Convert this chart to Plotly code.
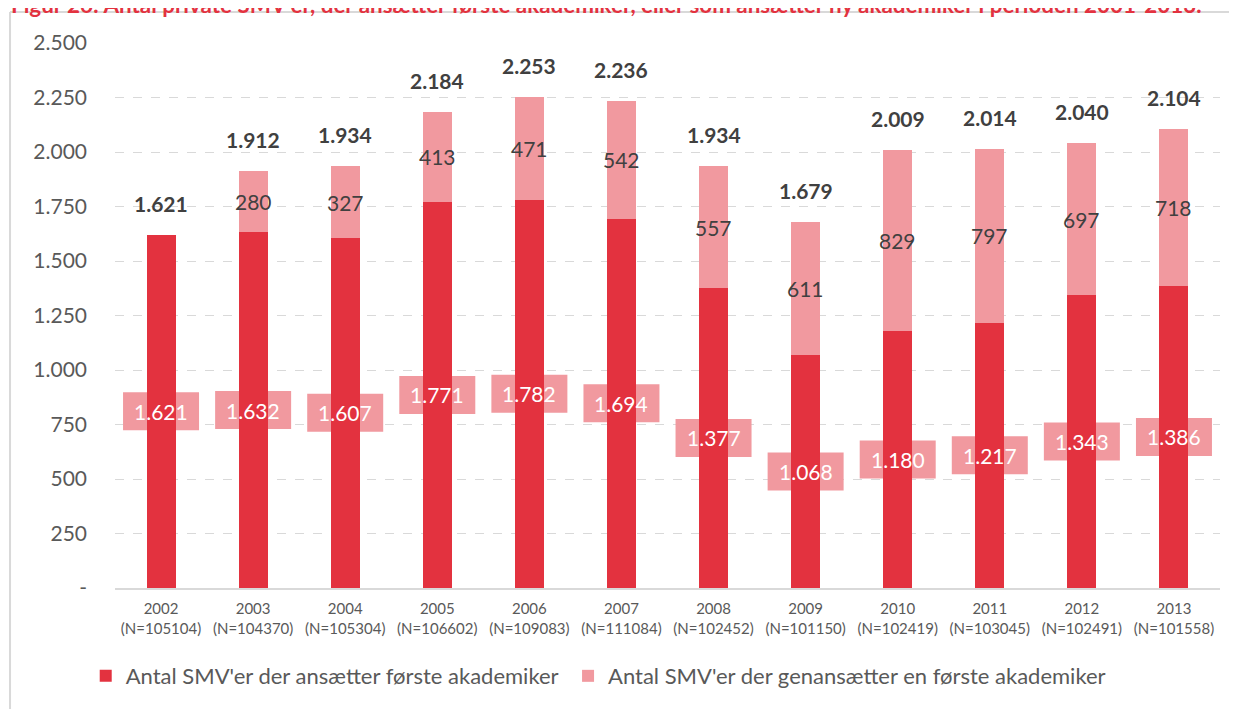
import plotly.graph_objects as go

years = ["2002", "2003", "2004", "2005", "2006", "2007", "2008", "2009", "2010", "2011", "2012", "2013"]
n_values = [105104, 104370, 105304, 106602, 109083, 111084, 102452, 101150, 102419, 103045, 102491, 101558]
first_hire = [1621, 1632, 1607, 1771, 1782, 1694, 1377, 1068, 1180, 1217, 1343, 1386]
rehire = [0, 280, 327, 413, 471, 542, 557, 611, 829, 797, 697, 718]
y_ticks = [0, 250, 500, 750, 1000, 1250, 1500, 1750, 2000, 2250, 2500]

name_first = "Antal SMV'er der ansætter første akademiker"
name_re = "Antal SMV'er der genansætter en første akademiker"
title = ("Figur 26: Antal private SMV'er, der ansætter første akademiker, eller som ansætter "
         "ny akademiker i perioden 2001-2013.")

DARK = "#E3323F"
LIGHT = "#F1999F"
TXT = "#404040"
AX = "#595959"
GRID = "#D9D9D9"
FONT = "Lato"


def dk(v):
    return f"{v:,}".replace(",", ".") if v != 0 else "-"


cats = [f"{y}<br>(N={n})" for y, n in zip(years, n_values)]
totals = [a + b for a, b in zip(first_hire, rehire)]

fig = go.Figure()
fig.add_trace(go.Bar(x=cats, y=first_hire, name=name_first, legend="legend", showlegend=True,
                     marker=dict(color=DARK, line=dict(width=0))))
fig.add_trace(go.Bar(x=cats, y=rehire, name=name_re, legend="legend2", showlegend=True,
                     marker=dict(color=LIGHT, line=dict(width=0))))

annotations = []
shapes = []
for i, c in enumerate(cats):
    f, r, t = first_hire[i], rehire[i], totals[i]
    # box behind the first-hire label
    shapes.append(dict(type="rect", layer="between", xref="x", yref="y",
                       xsizemode="pixel", ysizemode="pixel", xanchor=c, yanchor=f / 2,
                       x0=-38, x1=38, y0=-19, y1=19, fillcolor=LIGHT, line=dict(width=0)))
    annotations.append(dict(x=c, y=f / 2, xref="x", yref="y", text=dk(f), showarrow=False,
                            font=dict(family=FONT, size=21, color="white")))
    if r:
        annotations.append(dict(x=c, y=f + r / 2, xref="x", yref="y", text=dk(r), showarrow=False,
                                font=dict(family=FONT, size=21, color=TXT)))
    annotations.append(dict(x=c, y=t, xref="x", yref="y", text=f"<b>{dk(t)}</b>", showarrow=False,
                            yanchor="bottom", yshift=17, font=dict(family=FONT, size=21, color=TXT)))

annotations.append(dict(x=-0.096, y=1.0713, xref="paper", yref="paper", xanchor="left", yanchor="middle",
                        text=f"<b>{title}</b>", showarrow=False,
                        font=dict(family=FONT, size=22.4, color="#E3323F")))

# outer frame lines
shapes.append(dict(type="line", xref="paper", yref="paper", x0=-0.095, x1=-0.095, y0=1.0567, y1=-0.3,
                   line=dict(color=GRID, width=2), layer="below"))
shapes.append(dict(type="line", xref="paper", yref="paper", x0=-0.095, x1=1.1, y0=1.0567, y1=1.0567,
                   line=dict(color=GRID, width=2), layer="below"))

legend_font = dict(family=FONT, size=22, color=AX)

fig.update_layout(
    barmode="stack",
    bargap=0.685,
    showlegend=True,
    width=1229, height=701,
    margin=dict(l=107, r=17, t=35, b=119),
    paper_bgcolor="white", plot_bgcolor="white",
    font=dict(family=FONT, color=AX),
    annotations=annotations,
    shapes=shapes,
    legend=dict(orientation="h", x=-0.0265, y=-0.123, xanchor="left", yanchor="top",
                font=legend_font, itemwidth=30, bgcolor="rgba(0,0,0,0)"),
    legend2=dict(orientation="h", x=0.41, y=-0.123, xanchor="left", yanchor="top",
                 font=legend_font, itemwidth=30, bgcolor="rgba(0,0,0,0)"),
    xaxis=dict(showgrid=False, showline=True, linecolor=GRID, linewidth=2, ticks="",
               ticklabelstandoff=6,
               tickfont=dict(family=FONT, size=15, color=AX)),
    yaxis=dict(range=[0, 2500], tickvals=y_ticks, ticktext=[dk(v) for v in y_ticks],
               showgrid=True, gridcolor=GRID, griddash="dash", gridwidth=1,
               zeroline=False, showline=False, ticks="", ticklabelstandoff=27,
               tickfont=dict(family=FONT, size=21, color=AX)),
)

fig.write_html("out.html")
